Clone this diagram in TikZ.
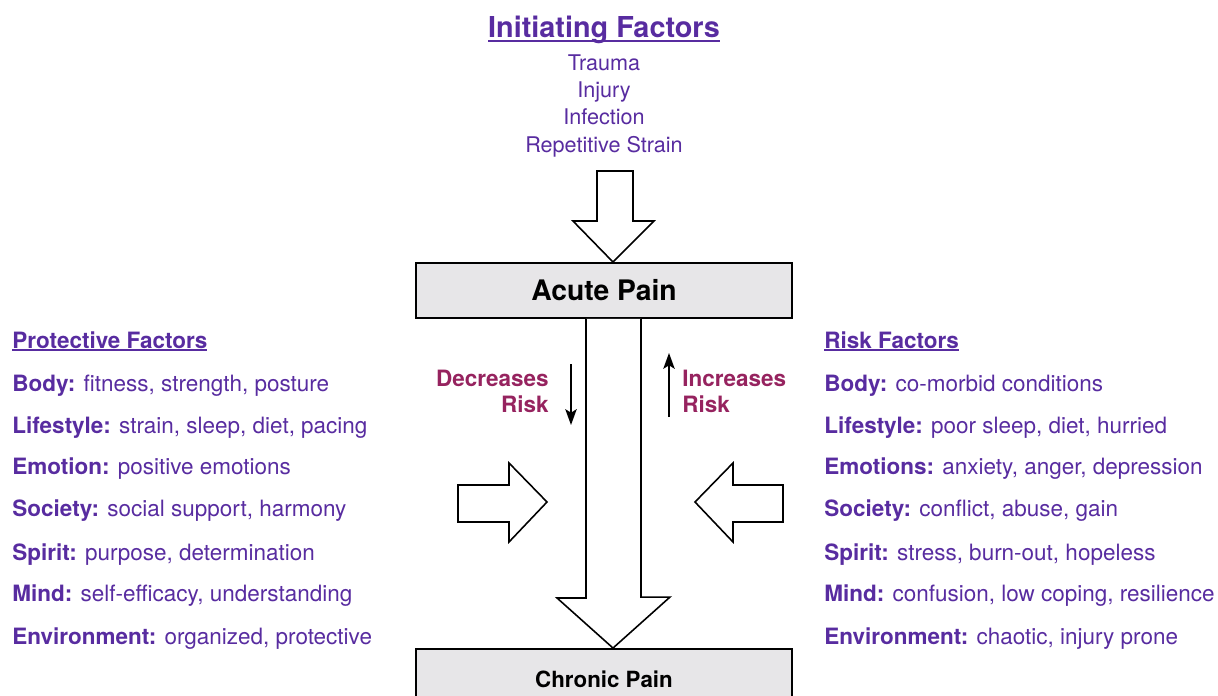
\documentclass[tikz,border=0pt]{standalone}
\usepackage{fontspec}
\setmainfont{TeX Gyre Heros}
\usepackage{tikz}
\usetikzlibrary{calc}
\usetikzlibrary{arrows,arrows.meta}
\definecolor{factpurple}{RGB}{88,44,160}
\definecolor{riskred}{RGB}{150,35,95}
\definecolor{boxgray}{RGB}{231,230,232}
\newcommand{\headul}[1]{\setbox0\hbox{#1}\leavevmode\rlap{\rule[-0.14em]{\wd0}{0.075em}}\box0}
\tikzset{
  painbox/.style={draw=black, line width=1.1pt, fill=boxgray, minimum width=7.52cm, inner sep=0pt},
  factor/.style={anchor=base west, inner sep=0pt, text=factpurple, font=\fontsize{12.8}{15}\selectfont},
  initem/.style={anchor=base, inner sep=0pt, text=factpurple, font=\fontsize{12.3}{15}\selectfont},
  blockarrow/.style={draw=black, line width=0.9pt, fill=white, line join=miter},
  riskarrow/.style={black, line width=1pt, -{Stealth[length=9pt, width=6.5pt, inset=2pt]}},
  risktext/.style={inner sep=0pt, text=riskred, font=\fontsize{12.8}{14.7}\selectfont\bfseries}
}

\begin{document}
\begin{tikzpicture}[x=0.02cm, y=-0.02cm]
\useasboundingbox (0,0) rectangle (1218,696);
\clip (0,0) rectangle (1218,696);

% initiating factors
\node[initem, font=\fontsize{16.4}{18}\selectfont\bfseries] (init) at (604,38) {\headul{Initiating Factors}};
\foreach \y/\t [count=\n] in {71/Trauma, 98/Injury, 125/Infection, 153/Repetitive Strain} {
  \node[initem] (init\n) at (604,\y) {\t};
}

% pain boxes
\node[painbox, minimum height=1.1cm, font=\fontsize{16.1}{18}\selectfont\bfseries] (acute) at (604,290.5) {Acute Pain};
\node[painbox, minimum height=1.2cm, font=\fontsize{12.7}{15}\selectfont\bfseries] (chronic) at (604,679) {Chronic Pain};

% block arrows
\draw[blockarrow] ($(acute.north)+(9,0)$) -- ++(-40,-41) -- ++(24,0) -- ++(0,-50) -- ++(36,0) -- ++(0,50) -- ++(21,0) -- cycle;
\draw[blockarrow] ($(acute.south)+(-18,0)$) -- ++(0,279) -- ++(-29,0) -- ($(chronic.north)+(9,0)$) -- ++(57,-51) -- ++(-29,0) -- ($(acute.south)+(37,0)$);
\draw[blockarrow] (547,502) -- (509,463) -- (509,485) -- (458,485) -- (458,522) -- (509,522) -- (509,542) -- cycle;
\draw[blockarrow] (695,502) -- (733,463) -- (733,485) -- (783,485) -- (783,522) -- (733,522) -- (733,542) -- cycle;

% risk direction
\node[risktext, anchor=east, align=right] (decr) at (549,391) {Decreases\\Risk};
\node[risktext, anchor=west, align=left] (incr) at (682,391) {Increases\\Risk};
\draw[riskarrow] (571,364) -- (571,425);
\draw[riskarrow] (669,417) -- (669,353);

% protective factors
\node[factor] (prot) at (12,348) {\headul{\textbf{Protective Factors}}};
\foreach \y/\k/\v [count=\n] in {391/Body/{fitness, strength, posture}, 433/Lifestyle/{strain, sleep, diet, pacing},
    474/Emotion/{positive emotions}, 516/Society/{social support, harmony}, 560/Spirit/{purpose, determination},
    601/Mind/{self-efficacy, understanding}, 644/Environment/{organized, protective}} {
  \node[factor] (prot\n) at (12,\y) {\textbf{\k:} \v};
}

% risk factors
\node[factor] (risk) at (824,348) {\headul{\textbf{Risk Factors}}};
\foreach \y/\k/\v [count=\n] in {391/Body/{co-morbid conditions}, 433/Lifestyle/{poor sleep, diet, hurried},
    474/Emotions/{anxiety, anger, depression}, 516/Society/{conflict, abuse, gain}, 560/Spirit/{stress, burn-out, hopeless},
    601/Mind/{confusion, low coping, resilience}, 644/Environment/{chaotic, injury prone}} {
  \node[factor] (risk\n) at (824,\y) {\textbf{\k:} \v};
}
\end{tikzpicture}
\end{document}
